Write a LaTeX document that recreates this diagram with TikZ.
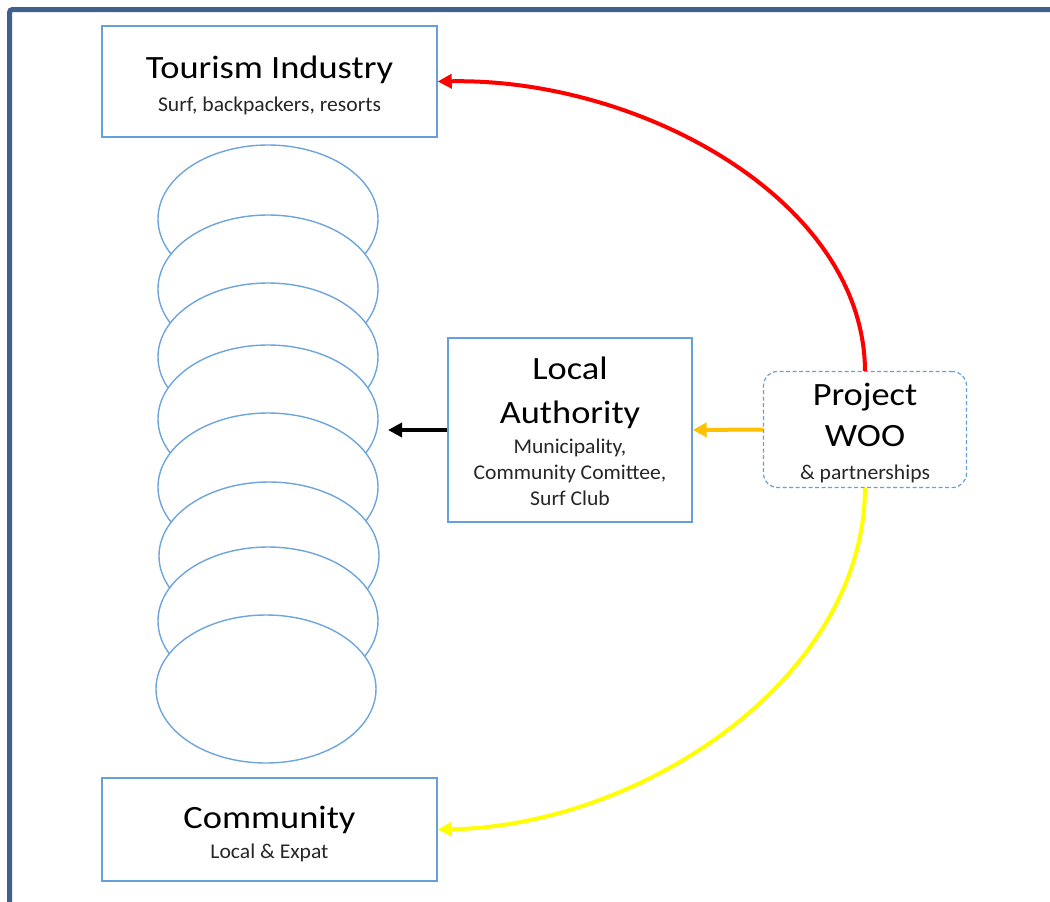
\documentclass[tikz,border=0pt]{standalone}
\usepackage{fontspec}
\setmainfont{Carlito}
\newfontfamily\headfont[FakeStretch=1.12]{Carlito}
\newfontfamily\notefont[FakeStretch=1.03]{Carlito}
\usetikzlibrary{shapes.geometric,arrows.meta}
\definecolor{framecol}{RGB}{62,96,140}
\definecolor{boxcol}{RGB}{100,160,218}
\definecolor{ringcol}{RGB}{110,165,220}
\definecolor{woored}{RGB}{255,0,0}
\definecolor{wooyellow}{RGB}{255,255,0}
\definecolor{wooorange}{RGB}{255,192,0}
\tikzset{
  framestyle/.style={draw=framecol,line width=5pt,rounded corners=3pt},
  stakebox/.style={draw=boxcol,line width=1.4pt,fill=white,inner sep=0pt},
  woobox/.style={draw=boxcol,line width=1.2pt,dash pattern=on 4pt off 2.5pt,rounded corners=14pt,fill=white,inner sep=0pt},
  ring/.style={ellipse,draw=ringcol,line width=1.4pt,fill=white,inner sep=0pt,minimum width=220pt,minimum height=148pt},
  bigtxt/.style={anchor=base,inner sep=0pt,font=\headfont\fontsize{32.5}{38}\selectfont},
  smalltxt/.style={anchor=base,inner sep=0pt,font=\notefont\fontsize{21}{25}\selectfont,text=black!85},
  link/.style={line width=4pt,-{Triangle[length=14pt,width=14pt]}},
}
\begin{document}
\begin{tikzpicture}[x=1pt,y=-1pt]
\useasboundingbox (0,0) rectangle (1050,902);
% outer frame along the left and top edges
\draw[framestyle] (9.5,910) -- (9.5,9.5) -- (1060,9.5);

% stakeholder boxes
\node[stakebox,minimum width=335pt,minimum height=111pt] (tour) at (269.5,81.5) {};
\node[stakebox,minimum width=335pt,minimum height=103pt] (comm) at (269.5,829.5) {};
\node[stakebox,minimum width=244pt,minimum height=184pt] (la) at (570,430) {};
\node[woobox,minimum width=203pt,minimum height=116pt] (woo) at (865,429.5) {};

% stack of rings
\foreach \i/\yy/\xx in {1/219/268,2/289/268,3/357/268,4/419/268,5/487/268,6/556/269,7/621/268,8/689/266}
  \node[ring] (r\i) at (\xx,\yy) {};

% labels
\node[bigtxt] (tourA) at (269.5,78) {Tourism Industry};
\node[smalltxt] (tourB) at (269.5,111) {Surf, backpackers, resorts};
\node[bigtxt] (commA) at (269.5,828) {Community};
\node[smalltxt] (commB) at (269.5,858) {Local \& Expat};
\node[bigtxt] (laA) at (570,379) {Local};
\node[bigtxt] (laB) at (570,423) {Authority};
\node[smalltxt] (laC) at (570,453) {Municipality,};
\node[smalltxt] (laD) at (570,479) {Community Comittee,};
\node[smalltxt] (laE) at (570,505) {Surf Club};
\node[bigtxt] (wooA) at (865,405) {Project};
\node[bigtxt] (wooB) at (865,446) {WOO};
\node[smalltxt] (wooC) at (865,479) {\& partnerships};

% connectors
\coordinate (ringside) at (388,430);
\draw[link,draw=woored] (woo.north) .. controls (864,200) and (640,78) .. (tour.east);
\draw[link,draw=wooyellow] (woo.south) .. controls (864,680) and (640,826) .. (comm.east);
\draw[link,draw=wooorange] (woo.west) -- (la.east);
\draw[link,draw=black] (la.west) -- (ringside);
\end{tikzpicture}
\end{document}
